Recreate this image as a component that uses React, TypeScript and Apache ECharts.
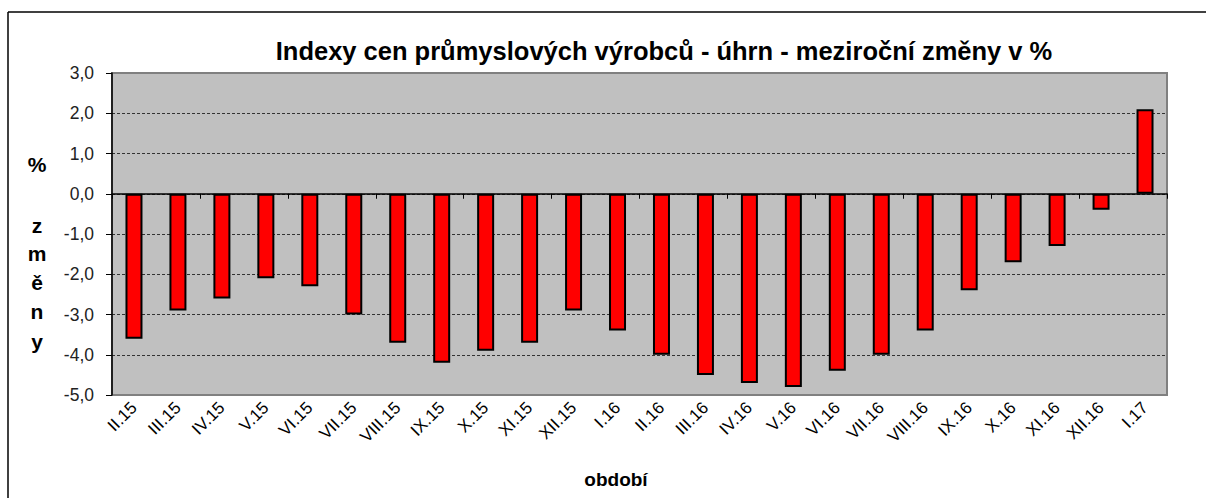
import React, { useEffect, useRef } from "react";
import * as echarts from "echarts";

const categories = [
  "II.15", "III.15", "IV.15", "V.15", "VI.15", "VII.15", "VIII.15", "IX.15",
  "X.15", "XI.15", "XII.15", "I.16", "II.16", "III.16", "IV.16", "V.16",
  "VI.16", "VII.16", "VIII.16", "IX.16", "X.16", "XI.16", "XII.16", "I.17",
];
const values = [
  -3.6, -2.9, -2.6, -2.1, -2.3, -3.0, -3.7, -4.2, -3.9, -3.7, -2.9, -3.4,
  -4.0, -4.5, -4.7, -4.8, -4.4, -4.0, -3.4, -2.4, -1.7, -1.3, -0.4, 2.1,
];
const yMin = -5;
const yMax = 3;
const titleText = "Indexy cen průmyslových výrobců - úhrn - meziroční změny v %";
const xName = "období";
const yNameLetters = ["z", "m", "ě", "n", "y"];

const FONT = "Arial";

export default function App() {
  const ref = useRef<HTMLDivElement>(null);
  useEffect(() => {
    if (!ref.current) return;
    const chart = echarts.init(ref.current, null, { renderer: "svg" });
    const splitColors = ["transparent", "#333", "#333", "#333", "#333", "#333", "#333", "#333", "transparent"];
    const letterY = [225.5, 253.5, 282.5, 311, 341];
    const graphics: any[] = [
      { type: "line", shape: { x1: 8, y1: 12, x2: 1206, y2: 12 }, style: { stroke: "#000", lineWidth: 1.5 } },
      { type: "line", shape: { x1: 8, y1: 12, x2: 8, y2: 498 }, style: { stroke: "#000", lineWidth: 1.5 } },
      {
        type: "text", x: 664, y: 51,
        style: { text: titleText, font: `bold 25.5px ${FONT}`, fill: "#000", textAlign: "center", textVerticalAlign: "middle" },
      },
      {
        type: "text", x: 616, y: 479,
        style: { text: xName, font: `bold 19px ${FONT}`, fill: "#000", textAlign: "center", textVerticalAlign: "middle" },
      },
      {
        type: "text", x: 37, y: 164,
        style: { text: "%", font: `bold 21px ${FONT}`, fill: "#000", textAlign: "center", textVerticalAlign: "middle" },
      },
      ...yNameLetters.map((l, i) => ({
        type: "text", x: 37, y: letterY[i],
        style: { text: l, font: `bold 21px ${FONT}`, fill: "#000", textAlign: "center", textVerticalAlign: "middle" },
      })),
    ];
    chart.setOption({
      animation: false,
      backgroundColor: "#fff",
      grid: {
        left: 112, right: 39, top: 73, bottom: 103,
        show: true, backgroundColor: "#C0C0C0", borderColor: "#808080", borderWidth: 2,
      },
      xAxis: [
        {
          type: "category", data: categories, position: "bottom",
          axisLine: { show: true, onZero: true, lineStyle: { color: "#000", width: 1.5 } },
          axisTick: { show: true, inside: false, length: 5, lineStyle: { color: "#000", width: 1 } },
          axisLabel: { show: false },
        },
        {
          type: "category", data: categories, position: "bottom",
          axisLine: { show: false, onZero: false },
          axisTick: { show: false },
          axisLabel: {
            show: true, interval: 0, rotate: 45, fontSize: 17, color: "#000", fontFamily: FONT, margin: 10,
          },
        },
      ],
      yAxis: {
        type: "value", min: yMin, max: yMax, interval: 1,
        axisLine: { show: true, lineStyle: { color: "#000", width: 1.5 } },
        axisTick: { show: true, length: 6, lineStyle: { color: "#000" } },
        axisLabel: {
          fontSize: 17.5, color: "#222", fontFamily: FONT, margin: 18,
          formatter: (v: number) => v.toFixed(1).replace(".", ","),
        },
        splitLine: { show: true, lineStyle: { color: splitColors, type: [3, 2], width: 1 } },
      },
      series: [
        {
          type: "bar", data: values, xAxisIndex: 0, barWidth: 17,
          itemStyle: { color: "#FF0000", borderColor: "#000", borderWidth: 2 },
        },
      ],
      graphic: graphics,
    });
    return () => chart.dispose();
  }, []);
  return <div ref={ref} style={{ position: "absolute", left: 0, top: 0, width: 1206, height: 498 }} />;
}
